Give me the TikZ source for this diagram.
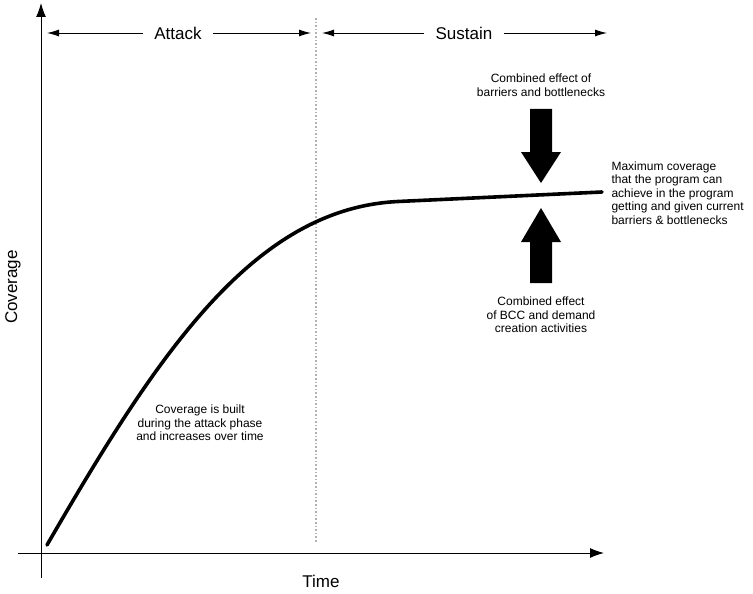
\documentclass[tikz,border=0pt]{standalone}
\usepackage{fontspec}
\setmainfont{Liberation Sans}
\usetikzlibrary{arrows.meta}
\begin{document}
\begin{tikzpicture}[x=1pt, y=-1pt,
  phase/.style={font=\fontsize{17}{19}\selectfont, inner xsep=11pt},
  note/.style={font=\fontsize{12}{13.5}\selectfont, align=center},
  span/.style={-{Latex[length=12pt, width=7pt]}, line width=0.9pt},
  axis/.style={-{Latex[length=14pt, width=10pt]}, line width=1pt}]
\useasboundingbox (0,0) rectangle (753,594);
% axes
\coordinate (xstart) at (18,553);
\coordinate (xend) at (604,553);
\coordinate (ystart) at (41,578);
\coordinate (yend) at (41,3);
\draw [axis] (xstart) -- (xend);
\draw [axis] (ystart) -- (yend);
\node [font=\fontsize{17}{19}\selectfont] (time) at (321,581) {Time};
\node [font=\fontsize{17}{19}\selectfont, rotate=90] (coverage) at (13,287) {Coverage};
% phase boundary
\coordinate (splittop) at (316,18);
\coordinate (splitbot) at (316,543);
\draw [gray!60, line width=1.6pt, dotted] (splittop) -- (splitbot);
% phases
\node [phase] (attack) at (178,33) {Attack};
\coordinate (attackL) at (47,33);
\coordinate (attackR) at (311,33);
\draw [span] (attack) -- (attackL);
\draw [span] (attack) -- (attackR);
\node [phase] (sustain) at (464,33) {Sustain};
\coordinate (sustainL) at (322,33);
\coordinate (sustainR) at (607,33);
\draw [span] (sustain) -- (sustainL);
\draw [span] (sustain) -- (sustainR);
% coverage curve
\coordinate (start) at (47,545);
\coordinate (bend) at (398,201.5);
\coordinate (top) at (602,192);
\draw [line width=3.6pt, line cap=round] (start) .. controls (157,355) and (253,208.5) .. (bend) -- (top);
\node [note] (built) at (200,423) {Coverage is built\\during the attack phase\\and increases over time};
% pressures on the ceiling
\fill (530,109) -- (552,109) -- (552,152) -- (561,152) -- (541,183) -- (521,152) -- (530,152) -- cycle;
\fill (541,208) -- (561,242) -- (552,242) -- (552,283) -- (530,283) -- (530,242) -- (521,242) -- cycle;
\node [note] (barriers) at (541,85) {Combined effect of\\barriers and bottlenecks};
\node [note] (bcc) at (541,315) {Combined effect\\of BCC and demand\\creation activities};
\node [note, align=left, anchor=west] (maximum) at (608,193) {Maximum coverage\\that the program can\\achieve in the program\\getting and given current\\barriers \& bottlenecks};
\end{tikzpicture}
\end{document}
